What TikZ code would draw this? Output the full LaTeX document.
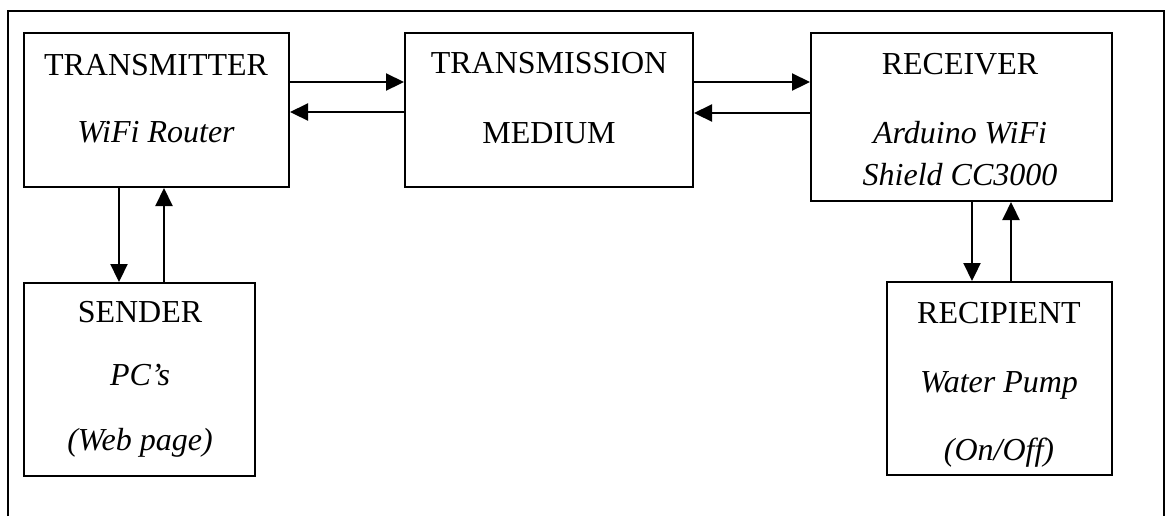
\documentclass[tikz,border=0pt]{standalone}
\usepackage{fontspec}
\setmainfont{Liberation Serif}
\usepackage{tikz}
\usetikzlibrary{arrows.meta}

\begin{document}
\begin{tikzpicture}[x=0.5pt,y=-0.5pt,
		blk/.style={draw,line width=1pt,inner sep=0pt},
		lbl/.style={anchor=base,inner sep=0pt,font=\fontsize{16}{19}\selectfont},
		ilbl/.style={lbl,font=\fontsize{16}{19}\selectfont\itshape}]
		\useasboundingbox (0,0) rectangle (1166,516);
		\draw[line width=1pt] (8,516) -- (8,11) -- (1164,11) -- (1164,516);
		%
		\node[blk,minimum width=132.5pt,minimum height=77pt] (tx) at (156.5,110) {};
		\node[blk,minimum width=144pt,minimum height=77pt] (med) at (549,110) {};
		\node[blk,minimum width=150.5pt,minimum height=84pt] (rx) at (961.5,117) {};
		\node[blk,minimum width=115.5pt,minimum height=96.5pt] (snd) at (139.5,379.5) {};
		\node[blk,minimum width=112.5pt,minimum height=96.5pt] (rcp) at (999.5,378.5) {};
		%
		\node[lbl] (tx-a) at (156,75) {TRANSMITTER};
		\node[ilbl] (tx-b) at (156,142) {WiFi Router};
		\node[lbl] (med-a) at (549,73) {TRANSMISSION};
		\node[lbl] (med-b) at (549,143) {MEDIUM};
		\node[lbl] (rx-a) at (960,74) {RECEIVER};
		\node[ilbl] (rx-b) at (960,143) {Arduino WiFi};
		\node[ilbl] (rx-c) at (960,185) {Shield CC3000};
		\node[lbl] (snd-a) at (140,322) {SENDER};
		\node[ilbl] (snd-b) at (140,385) {PC’s};
		\node[ilbl] (snd-c) at (140,450) {(Web page)};
		\node[lbl] (rcp-a) at (999,323) {RECIPIENT};
		\node[ilbl] (rcp-b) at (999,392) {Water Pump};
		\node[ilbl] (rcp-c) at (999,460) {(On/Off)};
		%
		\path[->,line width=1.1pt,>={Triangle[length=9pt,width=8.5pt]}]
		(tx.east |- 0,82) edge (med.west |- 0,82)
		(med.west |- 0,112) edge (tx.east |- 0,112)
		(med.east |- 0,82) edge (rx.west |- 0,82)
		(rx.west |- 0,113) edge (med.east |- 0,113)
		(tx.south -| 119,0) edge (snd.north -| 119,0)
		(snd.north -| 164,0) edge (tx.south -| 164,0)
		(rx.south -| 972,0) edge (rcp.north -| 972,0)
		(rcp.north -| 1011,0) edge (rx.south -| 1011,0);
	\end{tikzpicture}
\end{document}
